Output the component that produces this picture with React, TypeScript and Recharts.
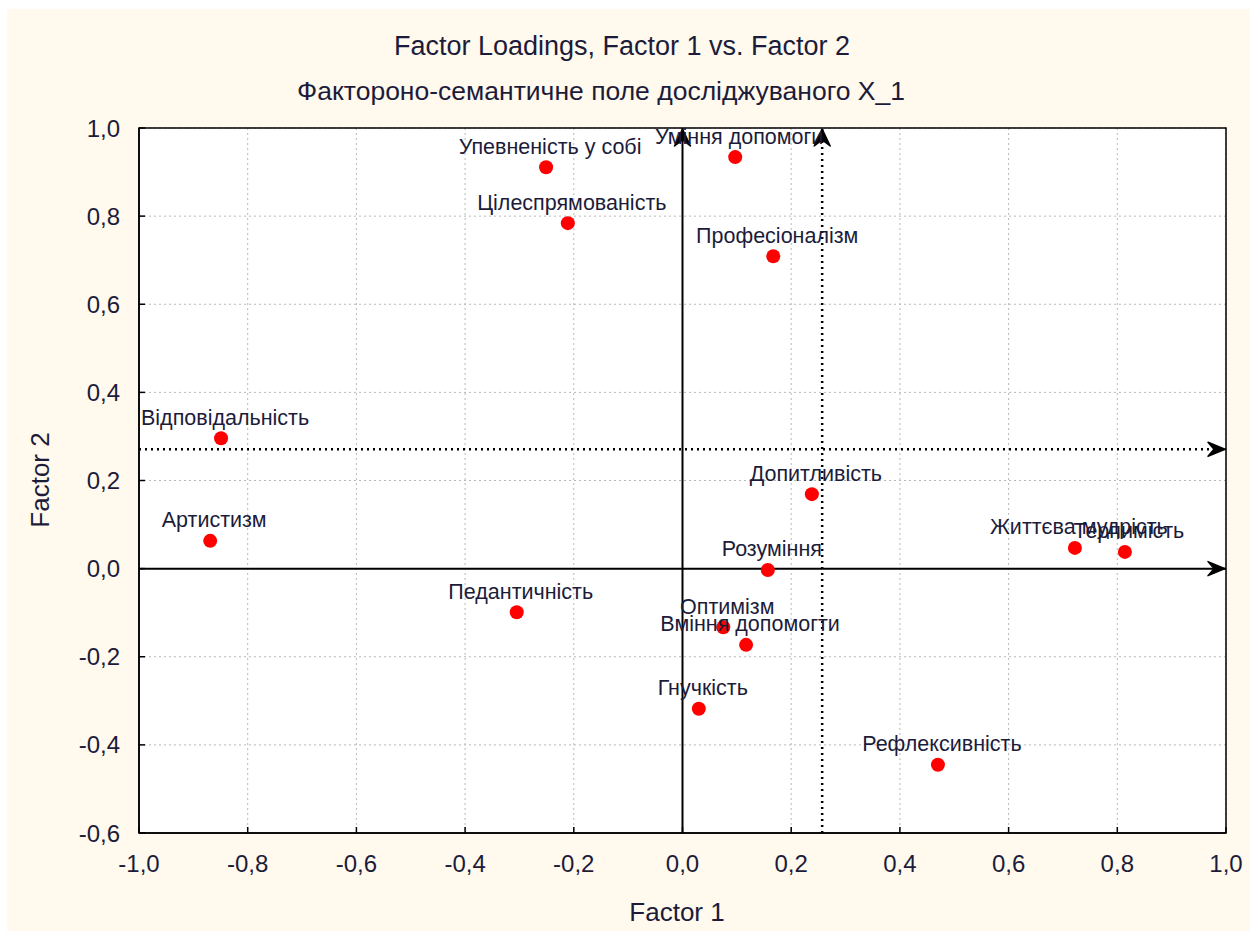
import React from "react";
import {
	ScatterChart,
	Scatter,
	XAxis,
	YAxis,
	CartesianGrid,
	ReferenceLine,
	ReferenceArea,
	ReferenceDot,
	LabelList,
} from "recharts";

const names = [
	"Упевненість у собі",
	"Уміння допомоги",
	"Цілеспрямованість",
	"Професіоналізм",
	"Відповідальність",
	"Артистизм",
	"Допитливість",
	"Життєва мудрість",
	"Терпимість",
	"Розуміння",
	"Педантичність",
	"Оптимізм",
	"Вміння допомогти",
	"Гнучкість",
	"Рефлексивність",
];
const factor1 = [
	-0.251, 0.097, -0.211, 0.167, -0.849, -0.869, 0.238, 0.722, 0.814, 0.157,
	-0.305, 0.075, 0.117, 0.03, 0.47,
];
const factor2 = [
	0.911, 0.934, 0.784, 0.709, 0.296, 0.063, 0.169, 0.047, 0.038, -0.003,
	-0.099, -0.133, -0.173, -0.318, -0.445,
];
const xTicks = [-1, -0.8, -0.6, -0.4, -0.2, 0, 0.2, 0.4, 0.6, 0.8, 1];
const yTicks = [-0.6, -0.4, -0.2, 0, 0.2, 0.4, 0.6, 0.8, 1];
// dotted cross (mean lines)
const dotX = 0.257;
const dotY = 0.271;

const points = names.map((name, i) => ({ name, x: factor1[i], y: factor2[i] }));

const FONT = "'Liberation Sans', Arial, sans-serif";
const TXT = "#1c1c3a";

const fmt = (v: number) => (Math.abs(v) < 1e-9 ? 0 : v).toFixed(1).replace(".", ",");

const UpArrow = (props: any) => {
	const { cx, cy } = props;
	return (
		<path
			d={`M${cx},${cy + 1} L${cx - 8},${cy + 18} L${cx},${cy + 12} L${cx + 8},${cy + 18} Z`}
			fill="#000"
			stroke="#000"
			strokeWidth={1.5}
			strokeLinejoin="round"
		/>
	);
};

const RightArrow = (props: any) => {
	const { cx, cy } = props;
	return (
		<path
			d={`M${cx - 1},${cy} L${cx - 18},${cy - 7} L${cx - 12},${cy} L${cx - 18},${cy + 7} Z`}
			fill="#000"
			stroke="#000"
			strokeWidth={1.5}
			strokeLinejoin="round"
		/>
	);
};

const Dot = (props: any) => <circle cx={props.cx} cy={props.cy} r={7} fill="#ff0000" />;

const PointLabel = (props: any) => {
	const { x, y, width, value } = props;
	return (
		<text
			x={x + (width || 0) / 2 + 4}
			y={y - 9}
			textAnchor="middle"
			fill={TXT}
			fontSize={21.5}
			fontFamily={FONT}
		>
			{value}
		</text>
	);
};

const tickStyle = { fill: TXT, fontSize: 24, fontFamily: FONT };
const lineStyle = { stroke: "#000", strokeWidth: 1.5 };

export default function App() {
	return (
		<div style={{ position: "relative", width: 1250, height: 931, background: "#fff", fontFamily: FONT }}>
			<style>{"body{margin:0}"}</style>
			<div style={{ position: "absolute", left: 7, top: 9, width: 1243, height: 922, background: "#fff9ee" }} />
			<div style={{ position: "absolute", left: 0, top: 0 }}>
				<ScatterChart
					width={1250}
					height={931}
					margin={{ top: 128, right: 24, left: 59, bottom: 38 }}
				>
					<CartesianGrid stroke="#b8b8b8" strokeDasharray="2 3" fill="#fff" fillOpacity={1} />
					<XAxis
						type="number"
						dataKey="x"
						domain={[-1, 1]}
						ticks={xTicks}
						tickFormatter={fmt}
						height={60}
						axisLine={lineStyle}
						tickLine={lineStyle}
						tickSize={-6}
						tickMargin={28}
						tick={tickStyle}
					/>
					<XAxis
						xAxisId="top"
						orientation="top"
						type="number"
						domain={[-1, 1]}
						ticks={xTicks}
						height={0}
						axisLine={false}
						tickLine={lineStyle}
						tickSize={-6}
						tick={false}
					/>
					<YAxis
						type="number"
						dataKey="y"
						domain={[-0.6, 1]}
						ticks={yTicks}
						tickFormatter={fmt}
						width={80}
						axisLine={lineStyle}
						tickLine={lineStyle}
						tickSize={-6}
						tickMargin={25}
						tick={tickStyle}
					/>
					<YAxis
						yAxisId="right"
						orientation="right"
						type="number"
						domain={[-0.6, 1]}
						ticks={yTicks}
						width={0}
						axisLine={false}
						tickLine={lineStyle}
						tickSize={-6}
						tick={false}
					/>
					<ReferenceArea x1={-1} x2={1} y1={-0.6} y2={1} fill="none" stroke="#000" strokeWidth={1.5} />
					<ReferenceLine x={0} stroke="#000" strokeWidth={2} />
					<ReferenceLine y={0} stroke="#000" strokeWidth={2} />
					<ReferenceLine x={dotX} stroke="#000" strokeWidth={2.5} strokeDasharray="2 4" />
					<ReferenceLine y={dotY} stroke="#000" strokeWidth={2.5} strokeDasharray="2 4" />
					<ReferenceDot x={0} y={1} shape={UpArrow} />
					<ReferenceDot x={dotX} y={1} shape={UpArrow} />
					<ReferenceDot x={1} y={0} shape={RightArrow} />
					<ReferenceDot x={1} y={dotY} shape={RightArrow} />
					<Scatter data={points} fill="#ff0000" isAnimationActive={false} shape={Dot}>
						<LabelList dataKey="name" content={PointLabel} />
					</Scatter>
				</ScatterChart>
			</div>
			<div style={{ position: "absolute", left: 622, top: 31, transform: "translateX(-50%)", fontSize: 27, color: TXT, whiteSpace: "nowrap" }}>
				Factor Loadings, Factor 1 vs. Factor 2
			</div>
			<div style={{ position: "absolute", left: 601, top: 76, transform: "translateX(-50%)", fontSize: 26.5, color: TXT, whiteSpace: "nowrap" }}>
				Факторонo-семантичне поле досліджуваного X_1
			</div>
			<div style={{ position: "absolute", left: 677, top: 897, transform: "translateX(-50%)", fontSize: 26, color: TXT, whiteSpace: "nowrap" }}>
				Factor 1
			</div>
			<div style={{ position: "absolute", left: 40, top: 480, transform: "translate(-50%, -50%) rotate(-90deg)", fontSize: 26, color: TXT, whiteSpace: "nowrap" }}>
				Factor 2
			</div>
		</div>
	);
}
